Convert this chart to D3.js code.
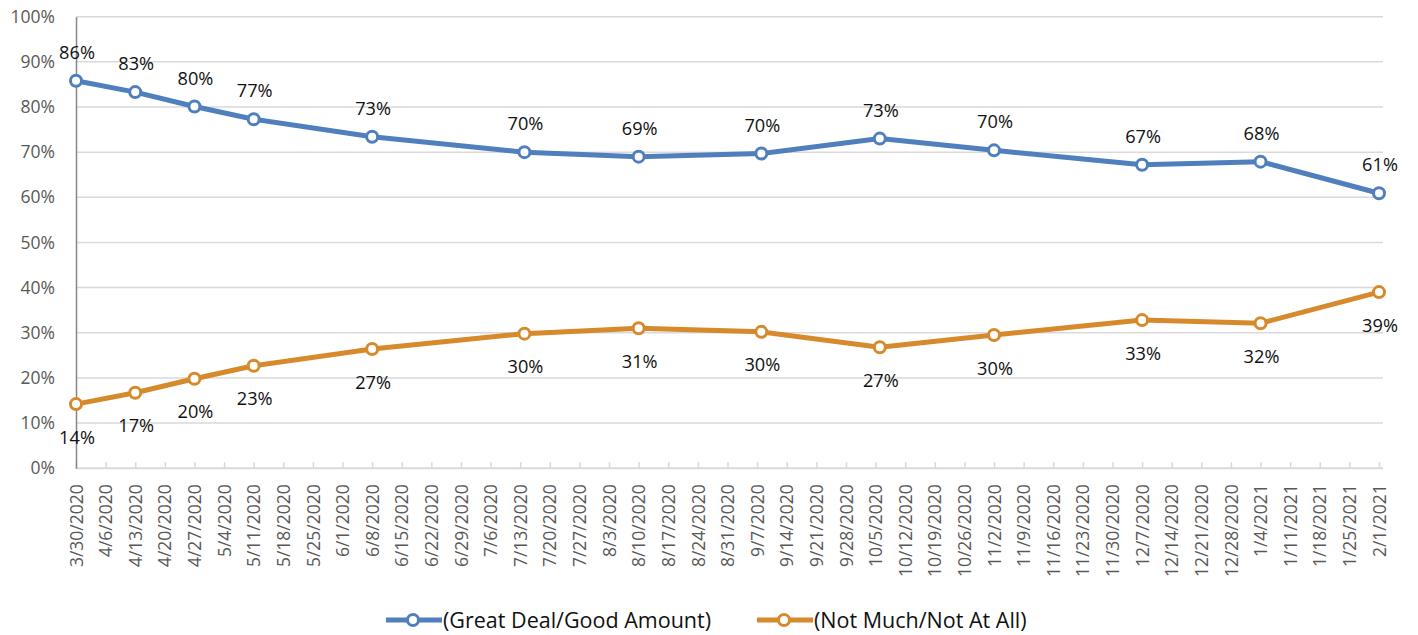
<!DOCTYPE html>
<html>
<head>
<meta charset="utf-8">
<script src="https://cdn.jsdelivr.net/npm/d3@7"></script>
<style>
    body { margin: 0; background: #fff; }
    svg { display: block; font-family: "Open Sans", sans-serif; }
</style>
</head>
<body>
<script>
"use strict";

// survey dates and the two answer groups (percent)
const surveyDates = ["3/30/2020", "4/13/2020", "4/27/2020", "5/11/2020", "6/8/2020", "7/14/2020",
    "8/10/2020", "9/8/2020", "10/6/2020", "11/2/2020", "12/7/2020", "1/4/2021", "2/1/2021"];
const greatDeal = [85.8, 83.3, 80.1, 77.3, 73.4, 70.0, 69.0, 69.7, 73.0, 70.4, 67.2, 67.9, 60.9];
const notMuch = [14.2, 16.7, 19.8, 22.7, 26.4, 29.8, 31.0, 30.2, 26.8, 29.5, 32.8, 32.1, 39.0];
const greatDealLabels = ["86%", "83%", "80%", "77%", "73%", "70%", "69%", "70%", "73%", "70%", "67%", "68%", "61%"];
const notMuchLabels = ["14%", "17%", "20%", "23%", "27%", "30%", "31%", "30%", "27%", "30%", "33%", "32%", "39%"];
const seriesNames = ["(Great Deal/Good Amount)", "(Not Much/Not At All)"];

// weekly axis labels
const weekLabels = ["3/30/2020", "4/6/2020", "4/13/2020", "4/20/2020", "4/27/2020", "5/4/2020", "5/11/2020",
    "5/18/2020", "5/25/2020", "6/1/2020", "6/8/2020", "6/15/2020", "6/22/2020", "6/29/2020", "7/6/2020",
    "7/13/2020", "7/20/2020", "7/27/2020", "8/3/2020", "8/10/2020", "8/17/2020", "8/24/2020", "8/31/2020",
    "9/7/2020", "9/14/2020", "9/21/2020", "9/28/2020", "10/5/2020", "10/12/2020", "10/19/2020", "10/26/2020",
    "11/2/2020", "11/9/2020", "11/16/2020", "11/23/2020", "11/30/2020", "12/7/2020", "12/14/2020",
    "12/21/2020", "12/28/2020", "1/4/2021", "1/11/2021", "1/18/2021", "1/25/2021", "2/1/2021"];
const yTicks = [0, 10, 20, 30, 40, 50, 60, 70, 80, 90, 100];

const measurements = {
    width: 1418,
    height: 635,
    left: 76,
    right: 1379,
    top: 16.7,
    bottom: 468.2
}
const colors = ["#4F7FBC", "#D68A2B"];
const parseDate = d3.timeParse("%-m/%-d/%Y");

const svg = d3.select("body").append("svg")
    .attr("width", measurements.width)
    .attr("height", measurements.height);

const scaleX = d3.scaleTime()
    .domain([parseDate(weekLabels[0]), parseDate(weekLabels[weekLabels.length - 1])])
    .range([measurements.left, measurements.right]);
const scaleY = d3.scaleLinear()
    .domain([0, 100])
    .range([measurements.bottom, measurements.top]);

// gridlines
svg.append("g")
    .selectAll("line")
    .data(yTicks.slice(1))
    .enter()
    .append("line")
    .attr("x1", measurements.left)
    .attr("x2", measurements.right + 4)
    .attr("y1", d => scaleY(d))
    .attr("y2", d => scaleY(d))
    .attr("stroke", "#d9d9d9")
    .attr("stroke-width", 1.5);

// y axis
const yAxis = d3.axisLeft(scaleY)
    .tickValues(yTicks)
    .tickSize(0)
    .tickPadding(21)
    .tickFormat(d => d + "%");
const yg = svg.append("g")
    .attr("transform", `translate(${measurements.left},0)`)
    .call(yAxis);
yg.select(".domain").attr("stroke", "#868686").attr("stroke-width", 1.5);
yg.selectAll("text").attr("fill", "#595959").attr("font-size", 17.5)
    .attr("font-family", "'Open Sans', sans-serif");

// x axis, ticks pointing up into the plot
const xAxis = d3.axisBottom(scaleX)
    .tickValues(weekLabels.map(parseDate))
    .tickSizeInner(-6)
    .tickSizeOuter(0)
    .tickFormat(d3.timeFormat("%-m/%-d/%Y"));
const xg = svg.append("g")
    .attr("transform", `translate(0,${measurements.bottom})`)
    .call(xAxis);
xg.select(".domain").attr("stroke", "#d9d9d9").attr("stroke-width", 2)
    .attr("d", `M${measurements.left},0H${measurements.right + 4}`);
xg.selectAll(".tick line").attr("stroke", "#d9d9d9").attr("stroke-width", 1.5);
xg.selectAll("text")
    .attr("fill", "#595959")
    .attr("font-size", 17.5)
    .attr("font-family", "'Open Sans', sans-serif")
    .attr("text-anchor", "end")
    .attr("transform", "rotate(-90)")
    .attr("x", -16)
    .attr("y", 0)
    .attr("dx", 0)
    .attr("dy", "0.35em");
// redraw y domain on top of the bottom axis
yg.raise();

const series = [
    { values: greatDeal, labels: greatDealLabels, color: colors[0], labelDy: -22 },
    { values: notMuch, labels: notMuchLabels, color: colors[1], labelDy: 39.5 }
];

const line = d3.line()
    .x(d => scaleX(parseDate(d.date)))
    .y(d => scaleY(d.value));

series.forEach(function(s) {
    const points = surveyDates.map((date, i) => ({ date: date, value: s.values[i], label: s.labels[i] }));

    svg.append("path")
        .datum(points)
        .attr("d", line)
        .attr("fill", "none")
        .attr("stroke", s.color)
        .attr("stroke-width", 5)
        .attr("stroke-linejoin", "round");

    svg.append("g").selectAll("circle")
        .data(points)
        .enter()
        .append("circle")
        .attr("cx", d => scaleX(parseDate(d.date)))
        .attr("cy", d => scaleY(d.value))
        .attr("r", 5.5)
        .attr("fill", "#fff")
        .attr("stroke", s.color)
        .attr("stroke-width", 3);

    svg.append("g").selectAll("text")
        .data(points)
        .enter()
        .append("text")
        .attr("x", d => scaleX(parseDate(d.date)) + 1)
        .attr("y", d => scaleY(d.value) + s.labelDy)
        .attr("text-anchor", "middle")
        .attr("font-size", 18.2)
        .attr("fill", "#111")
        .text(d => d.label);
});

// legend
const legendX = [386, 757];
seriesNames.forEach(function(name, i) {
    const g = svg.append("g").attr("transform", `translate(${legendX[i]},620)`);
    g.append("line")
        .attr("x1", 0).attr("x2", 56)
        .attr("y1", 0).attr("y2", 0)
        .attr("stroke", colors[i])
        .attr("stroke-width", 5);
    g.append("circle")
        .attr("cx", 27).attr("cy", 0).attr("r", 5.5)
        .attr("fill", "#fff")
        .attr("stroke", colors[i])
        .attr("stroke-width", 3);
    g.append("text")
        .attr("x", 57)
        .attr("y", 7.5)
        .attr("font-size", 21.5)
        .attr("fill", "#111")
        .text(name);
});
</script>
</body>
</html>
